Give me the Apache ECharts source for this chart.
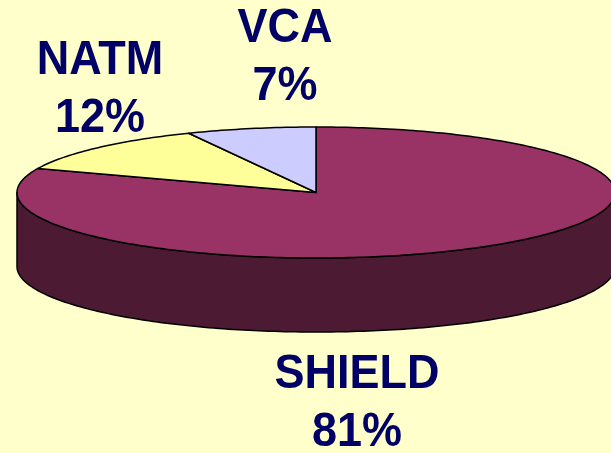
<!DOCTYPE html>
<html>
<head>
<meta charset="utf-8">
<script src="https://cdn.jsdelivr.net/npm/echarts@6/dist/echarts.min.js"></script>
<style>
html, body { margin: 0; padding: 0; background: #ffffcc; }
#chart { width: 611px; height: 453px; }
</style>
</head>
<body>
<div id="chart"></div>
<script>
const names = ['SHIELD', 'NATM', 'VCA']
const values = [81, 12, 7]
const topColors = ['#993366', '#ffff99', '#ccccff']
const sideColors = ['#4d1a33', '#808050', '#666680']

// tilted disc layout (px)
const cx = 316, cy = 192.5, rx = 299, ry = 65.5, depth = 74
// middle of each two-line label
const labelPos = [[357, 404], [100, 90], [285, 58]]

const total = values.reduce((a, b) => a + b, 0)
const starts = []
let acc = 0
values.forEach(v => { starts.push(acc / total * 360); acc += v })

function pt(deg, dy) {
  const r = deg * Math.PI / 180
  return [cx + rx * Math.sin(r), cy - ry * Math.cos(r) + (dy || 0)]
}

function arc(a0, a1, dy) {
  const pts = []
  const n = Math.max(2, Math.ceil(Math.abs(a1 - a0)))
  for (let k = 0; k <= n; k++) pts.push(pt(a0 + (a1 - a0) * k / n, dy))
  return pts
}

function renderItem(params, api) {
  const i = params.dataIndex
  const a0 = starts[i]
  const a1 = a0 + api.value(0) / total * 360
  const children = []

  // front wall: the part of the slice between 90 and 270 degrees
  const s0 = Math.max(a0, 90), s1 = Math.min(a1, 270)
  if (s1 > s0) {
    const pts = arc(s0, s1, 0).concat(arc(s1, s0, depth))
    children.push({
      type: 'polygon',
      shape: { points: pts },
      style: { fill: sideColors[i], stroke: '#000', lineWidth: 1.5, lineJoin: 'round' }
    })
  }

  children.push({
    type: 'polygon',
    shape: { points: [[cx, cy]].concat(arc(a0, a1, 0)) },
    style: { fill: topColors[i], stroke: '#000', lineWidth: 1.5, lineJoin: 'round' }
  })

  children.push({
    type: 'text',
    x: labelPos[i][0],
    y: labelPos[i][1],
    scaleY: 1.06,
    style: {
      text: names[i] + '\n' + api.value(0) + '%',
      align: 'center',
      verticalAlign: 'middle',
      font: 'bold 45px "Liberation Sans", Arial, sans-serif',
      lineHeight: 55,
      fill: '#000066'
    }
  })

  return { type: 'group', children }
}

const chart = echarts.init(document.getElementById('chart'))
chart.setOption({
  backgroundColor: '#ffffcc',
  animation: false,
  series: [{
    type: 'custom',
    coordinateSystem: 'none',
    silent: true,
    data: values.map(v => [v]),
    renderItem
  }]
})
</script>
</body>
</html>
